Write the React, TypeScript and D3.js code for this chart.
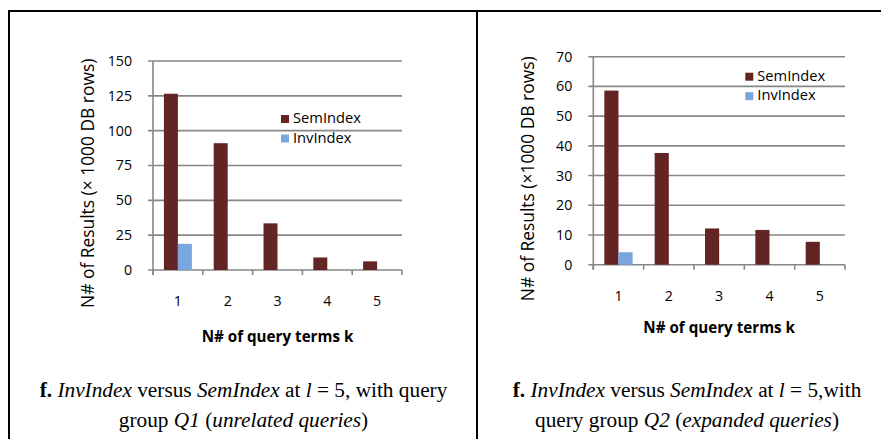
import React from "react";
import * as d3 from "d3";

// Number of query terms k
const categories = [1, 2, 3, 4, 5];
const seriesNames = ["SemIndex", "InvIndex"];

// Query group Q1 (unrelated queries), results in thousands of DB rows
const q1SemIndex = [126.5, 91, 33.5, 9, 6.2];
const q1InvIndex = [18.8, 0, 0, 0, 0];
const q1Ticks = [0, 25, 50, 75, 100, 125, 150];

// Query group Q2 (expanded queries), results in thousands of DB rows
const q2SemIndex = [58.6, 37.6, 12.2, 11.7, 7.7];
const q2InvIndex = [4.2, 0, 0, 0, 0];
const q2Ticks = [0, 10, 20, 30, 40, 50, 60, 70];

const COLORS: Record<string, string> = { SemIndex: "#632523", InvIndex: "#79a6dc" };
const GRID = "#878787";
const SANS = "'Open Sans', 'Noto Sans', sans-serif";
const SERIF = "'Liberation Serif', 'Times New Roman', serif";

type PanelProps = {
  sem: number[];
  inv: number[];
  ticks: number[];
  x0: number;
  x1: number;
  yBottom: number;
  yTop: number;
  yTitle: string;
  yTitleX: number;
  yTitleY: number;
  xLabelY: number;
  xTitleY: number;
  legendX: number;
  legendY: number;
};

function Panel(p: PanelProps) {
  const max = p.ticks[p.ticks.length - 1];
  const y = d3.scaleLinear().domain([0, max]).range([p.yBottom, p.yTop]);
  const x = d3.scaleBand<number>().domain(categories).range([p.x0, p.x1]).padding(0);
  const xs = d3
    .scaleBand<string>()
    .domain(seriesNames)
    .range([0, x.bandwidth()])
    .paddingInner(0)
    .paddingOuter(0.78);
  const values: Record<string, number[]> = { SemIndex: p.sem, InvIndex: p.inv };
  const boundaries = categories.map((c) => x(c)!).concat([p.x1]);

  return (
    <g>
      {/* horizontal gridlines */}
      {p.ticks.map((t) => (
        <g key={t}>
          <line x1={p.x0 - 5} x2={p.x1} y1={y(t)} y2={y(t)} stroke={GRID} strokeWidth={1.6} />
          <text
            x={p.x0 - 21}
            y={y(t)}
            dy="0.35em"
            textAnchor="end"
            fontFamily={SANS}
            fontSize={14.2}
            fill="#000"
          >
            {t}
          </text>
        </g>
      ))}
      {/* vertical axis */}
      <line x1={p.x0} x2={p.x0} y1={p.yTop} y2={p.yBottom + 5} stroke={GRID} strokeWidth={1.6} />
      {/* category tick marks */}
      {boundaries.map((b, i) => (
        <line key={i} x1={b} x2={b} y1={p.yBottom} y2={p.yBottom + 5} stroke={GRID} strokeWidth={1.6} />
      ))}
      {/* bars */}
      {categories.map((c, i) =>
        seriesNames.map((s) => {
          const v = values[s][i];
          if (v <= 0) return null;
          return (
            <rect
              key={c + s}
              x={x(c)! + xs(s)!}
              y={y(v)}
              width={xs.bandwidth()}
              height={y(0) - y(v)}
              fill={COLORS[s]}
            />
          );
        })
      )}
      {/* category labels */}
      {categories.map((c) => (
        <text
          key={c}
          x={x(c)! + x.bandwidth() / 2}
          y={p.xLabelY}
          textAnchor="middle"
          fontFamily={SANS}
          fontSize={14.2}
        >
          {c}
        </text>
      ))}
      <text
        x={(p.x0 + p.x1) / 2}
        y={p.xTitleY}
        textAnchor="middle"
        fontFamily={SANS}
        fontSize={15.2}
        fontWeight="bold"
      >
        N# of query terms k
      </text>
      <text
        transform={`translate(${p.yTitleX},${p.yTitleY}) rotate(-90)`}
        textAnchor="middle"
        fontFamily={SANS}
        fontSize={17.4}
      >
        {p.yTitle}
      </text>
      {/* legend */}
      {seriesNames.map((s, i) => (
        <g key={s} transform={`translate(${p.legendX},${p.legendY + i * 19.5})`}>
          <rect x={0} y={0} width={8} height={8} fill={COLORS[s]} />
          <text x={12} y={8} fontFamily={SANS} fontSize={14.7}>
            {s}
          </text>
        </g>
      ))}
    </g>
  );
}

function Caption({ cx, lines }: { cx: number; lines: React.ReactNode[] }) {
  return (
    <g>
      {lines.map((l, i) => (
        <text key={i} x={cx} y={396.7 + i * 30} textAnchor="middle" fontFamily={SERIF} fontSize={21.3}>
          {l}
        </text>
      ))}
    </g>
  );
}

export default function App() {
  return (
    <svg
      width={881}
      height={439}
      style={{ position: "absolute", left: 0, top: 0, background: "#fff" }}
    >
      {/* frame */}
      <line x1={8} x2={881} y1={11} y2={11} stroke="#000" strokeWidth={2} />
      <line x1={9} x2={9} y1={10} y2={439} stroke="#000" strokeWidth={2} />
      <line x1={477} x2={477} y1={10} y2={439} stroke="#000" strokeWidth={2} />

      <Panel
        sem={q1SemIndex}
        inv={q1InvIndex}
        ticks={q1Ticks}
        x0={153}
        x1={402}
        yBottom={270}
        yTop={61}
        yTitle="N# of Results (× 1000 DB rows)"
        yTitleX={94.3}
        yTitleY={183.3}
        xLabelY={306}
        xTitleY={342}
        legendX={281}
        legendY={115}
      />
      <Panel
        sem={q2SemIndex}
        inv={q2InvIndex}
        ticks={q2Ticks}
        x0={593.3}
        x1={845}
        yBottom={264.7}
        yTop={56.7}
        yTitle="N# of Results (×1000 DB rows)"
        yTitleX={534.3}
        yTitleY={178.8}
        xLabelY={301}
        xTitleY={332.5}
        legendX={745.3}
        legendY={72.7}
      />

      <Caption
        cx={243.5}
        lines={[
          <>
            <tspan fontWeight="bold">f.</tspan> <tspan fontStyle="italic">InvIndex</tspan> versus{" "}
            <tspan fontStyle="italic">SemIndex</tspan> at <tspan fontStyle="italic">l</tspan> = 5, with query
          </>,
          <>
            group <tspan fontStyle="italic">Q1</tspan> (<tspan fontStyle="italic">unrelated queries</tspan>)
          </>,
        ]}
      />
      <Caption
        cx={687}
        lines={[
          <>
            <tspan fontWeight="bold">f.</tspan> <tspan fontStyle="italic">InvIndex</tspan> versus{" "}
            <tspan fontStyle="italic">SemIndex</tspan> at <tspan fontStyle="italic">l</tspan> = 5,with
          </>,
          <>
            query group <tspan fontStyle="italic">Q2</tspan> (<tspan fontStyle="italic">expanded queries</tspan>)
          </>,
        ]}
      />
    </svg>
  );
}
